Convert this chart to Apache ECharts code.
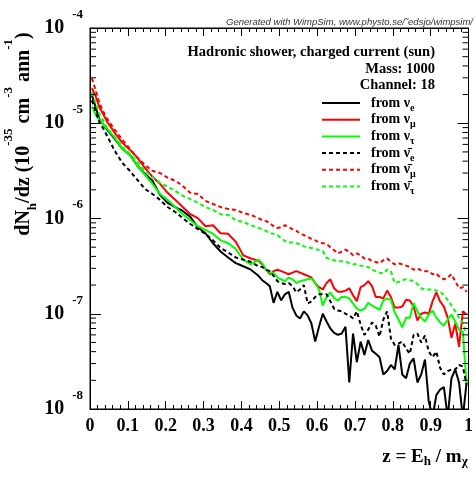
<!DOCTYPE html>
<html>
<head>
<meta charset="utf-8">
<script src="https://cdn.jsdelivr.net/npm/echarts@6/dist/echarts.min.js"></script>
<style>
html,body{margin:0;padding:0;background:#fff;}
#chart{width:476px;height:477px;}
</style>
</head>
<body>
<div id="chart"></div>
<script>
// bin centres of z = E_h / m_chi
const z = [0.005,0.015,0.025,0.035,0.045,0.065,0.085,0.105,0.125,0.145,0.165,0.185,0.205,0.225,0.245,0.265,0.285,0.305,0.325,0.345,0.365,0.385,0.405,0.425,0.445,
0.455,0.465,0.475,0.485,0.495,0.505,0.515,0.525,0.535,0.545,0.555,0.565,0.575,0.585,0.595,0.605,0.615,0.625,0.635,0.645,0.655,0.665,0.675,0.685,0.695,
0.705,0.715,0.725,0.735,0.745,0.755,0.765,0.775,0.785,0.795,0.805,0.815,0.825,0.835,0.845,0.855,0.865,0.875,0.885,0.895,0.905,0.915,0.925,0.935,0.945,
0.955,0.965,0.975,0.985,0.995];

const nuE = [1.96e-5,1.47e-5,1.09e-5,9.7e-6,8.6e-6,6.9e-6,5.41e-6,4.68e-6,3.58e-6,2.95e-6,2.49e-6,1.77e-6,1.46e-6,1.32e-6,1.20e-6,1.04e-6,8.1e-7,7.0e-7,5.5e-7,4.5e-7,3.9e-7,3.4e-7,3.15e-7,2.9e-7,2.5e-7,
2.25e-7,2.1e-7,1.95e-7,1.3e-7,1.7e-7,1.38e-7,1.6e-7,1.7e-7,1.16e-7,9.6e-8,8.9e-8,1.06e-7,9.6e-8,7.9e-8,5.1e-8,7.3e-8,1.0e-7,8.3e-8,7.0e-8,6.3e-8,6.0e-8,6.2e-8,7.3e-8,1.9e-8,6.2e-8,
3.1e-8,5.1e-8,3.7e-8,5.3e-8,4.1e-8,3.8e-8,3.5e-8,2.3e-8,2.5e-8,2.9e-8,2.6e-8,4.7e-8,2.3e-8,2.1e-8,3.0e-8,3.4e-8,1.9e-8,2.3e-8,3.3e-8,1.2e-8,8.2e-9,1.4e-8,1.6e-8,1.7e-8,8.2e-9,
2.1e-8,2.6e-8,1.9e-8,8.2e-9,1.9e-8];

const nuMu = [2.33e-5,1.92e-5,1.47e-5,1.24e-5,1.04e-5,7.98e-6,6.26e-6,5.28e-6,4.35e-6,3.41e-6,2.74e-6,2.31e-6,1.86e-6,1.57e-6,1.32e-6,1.11e-6,1.01e-6,8.3e-7,8.5e-7,7.0e-7,6.9e-7,5.7e-7,4.1e-7,3.8e-7,3.6e-7,
3.3e-7,2.9e-7,2.6e-7,2.8e-7,2.9e-7,2.8e-7,2.7e-7,2.6e-7,2.7e-7,2.8e-7,2.7e-7,2.6e-7,2.5e-7,2.4e-7,2.1e-7,1.9e-7,1.8e-7,2.1e-7,2.3e-7,1.85e-7,1.7e-7,1.7e-7,1.75e-7,1.85e-7,1.56e-7,
1.35e-7,1.9e-7,2.0e-7,2.2e-7,1.95e-7,1.5e-7,1.5e-7,1.45e-7,1.75e-7,1.5e-7,1.16e-7,1.16e-7,1.19e-7,1.4e-7,1.38e-7,1.19e-7,8.5e-8,1.0e-7,1.03e-7,1.0e-7,1.35e-7,1.68e-7,1.35e-7,1.19e-7,9.1e-8,
5.6e-8,7.9e-8,4.5e-8,1.06e-7,9.8e-8];

const nuTau = [1.50e-5,1.24e-5,1.07e-5,9.7e-6,8.8e-6,7.07e-6,5.41e-6,4.68e-6,3.58e-6,2.88e-6,2.31e-6,1.81e-6,1.57e-6,1.32e-6,1.11e-6,9.6e-7,8.3e-7,7.6e-7,6.9e-7,5.9e-7,5.5e-7,4.8e-7,3.7e-7,3.3e-7,3.7e-7,
3.4e-7,2.9e-7,2.7e-7,2.7e-7,2.4e-7,2.3e-7,2.2e-7,2.4e-7,2.3e-7,2.1e-7,2.2e-7,2.25e-7,2.3e-7,2.35e-7,2.1e-7,1.8e-7,1.22e-7,1.5e-7,1.68e-7,1.45e-7,1.38e-7,1.5e-7,1.5e-7,1.45e-7,1.28e-7,
1.13e-7,1.08e-7,1.13e-7,1.3e-7,1.22e-7,1.16e-7,1.1e-7,1.38e-7,1.45e-7,1.4e-7,1.03e-7,8.7e-8,7.2e-8,9.1e-8,9.1e-8,1.3e-7,1.06e-7,9.1e-8,8.3e-8,9.8e-8,1.08e-7,9.1e-8,8.1e-8,7.5e-8,8.7e-8,
9.8e-8,8.3e-8,6.8e-8,6.5e-8,1.8e-8];

const antiNuE = [1.74e-5,1.33e-5,1.02e-5,8.8e-6,7.4e-6,5.16e-6,3.85e-6,3.17e-6,2.55e-6,2.05e-6,1.81e-6,1.57e-6,1.32e-6,1.17e-6,1.01e-6,8.75e-7,7.75e-7,6.9e-7,5.9e-7,4.9e-7,4.4e-7,3.9e-7,3.7e-7,3.5e-7,3.15e-7,
3.1e-7,2.9e-7,2.8e-7,2.5e-7,2.2e-7,2.1e-7,2.05e-7,2.1e-7,1.95e-7,1.68e-7,1.8e-7,2.0e-7,1.28e-7,1.35e-7,1.5e-7,1.6e-7,1.6e-7,1.6e-7,1.35e-7,1.13e-7,1.08e-7,1.06e-7,1.0e-7,9.6e-8,8.9e-8,
1.06e-7,7.7e-8,6.0e-8,6.8e-8,8.1e-8,7.5e-8,5.75e-8,8.7e-8,1.06e-7,5.5e-8,4.7e-8,4.85e-8,5.1e-8,4.3e-8,3.8e-8,6.0e-8,6.2e-8,5.0e-8,5.9e-8,4.0e-8,3.5e-8,4.0e-8,2.7e-8,2.3e-8,2.5e-8,
2.6e-8,2.6e-8,2.9e-8,2.8e-8,1.8e-8];

const antiNuMu = [2.97e-5,2.22e-5,1.62e-5,1.33e-5,1.12e-5,8.6e-6,6.74e-6,5.41e-6,4.35e-6,3.67e-6,3.17e-6,3.0e-6,2.68e-6,2.49e-6,2.20e-6,1.86e-6,1.81e-6,1.53e-6,1.42e-6,1.32e-6,1.26e-6,1.23e-6,1.14e-6,1.09e-6,1.01e-6,
9.6e-7,9.4e-7,9.0e-7,8.3e-7,7.95e-7,8.1e-7,8.5e-7,8.1e-7,7.75e-7,7.4e-7,7.0e-7,6.7e-7,6.4e-7,6.1e-7,5.9e-7,5.6e-7,5.5e-7,5.4e-7,5.0e-7,4.65e-7,4.3e-7,4.5e-7,4.7e-7,4.5e-7,4.1e-7,
4.3e-7,4.1e-7,3.8e-7,3.8e-7,3.55e-7,3.5e-7,3.4e-7,3.65e-7,3.8e-7,3.5e-7,3.3e-7,3.4e-7,3.3e-7,3.2e-7,3.1e-7,2.9e-7,3.0e-7,2.85e-7,2.8e-7,2.8e-7,2.6e-7,2.65e-7,2.4e-7,2.3e-7,2.4e-7,
2.6e-7,2.2e-7,1.85e-7,1.9e-7,1.7e-7];

const antiNuTau = [2.11e-5,1.62e-5,1.24e-5,1.07e-5,9.0e-6,7.2e-6,5.68e-6,4.8e-6,3.95e-6,3.17e-6,2.74e-6,2.37e-6,2.15e-6,1.95e-6,1.73e-6,1.6e-6,1.46e-6,1.32e-6,1.23e-6,1.11e-6,1.09e-6,9.6e-7,9.2e-7,8.5e-7,7.95e-7,
7.75e-7,7.4e-7,7.0e-7,6.9e-7,6.7e-7,6.2e-7,5.8e-7,5.6e-7,5.6e-7,5.5e-7,5.4e-7,5.1e-7,5.0e-7,4.9e-7,4.8e-7,4.65e-7,4.55e-7,3.85e-7,3.75e-7,3.65e-7,3.55e-7,3.55e-7,3.5e-7,3.4e-7,3.3e-7,
3.3e-7,3.2e-7,3.15e-7,3.1e-7,2.9e-7,2.8e-7,2.7e-7,2.65e-7,2.9e-7,2.8e-7,2.1e-7,2.15e-7,2.25e-7,2.3e-7,2.25e-7,2.2e-7,2.05e-7,1.85e-7,1.8e-7,1.8e-7,1.8e-7,1.75e-7,1.7e-7,1.56e-7,1.4e-7,
1.22e-7,1.06e-7,9.1e-8,7.9e-8,6.2e-8];

const seriesNames = ['nu_e','nu_mu','nu_tau','anti_nu_e','anti_nu_mu','anti_nu_tau'];
const legendLabels = ['from \u03bd{sub|e}','from \u03bd{sub|\u03bc}','from \u03bd{sub|\u03c4}',
  'from \u03bd\u0304{sub|e}','from \u03bd\u0304{sub|\u03bc}','from \u03bd\u0304{sub|\u03c4}'];
const yTickMantissas = [2,3,4,5,6,7,8,9];
const yDecades = [-8,-7,-6,-5];

const FONT = 'Liberation Serif';
const seriesData = [nuE, nuMu, nuTau, antiNuE, antiNuMu, antiNuTau];
const colors = ['#000000','#ff0000','#00ff00','#000000','#ff0000','#00ff00'];
const dashed = [false,false,false,true,true,true];

const minorVals = [];
yDecades.forEach(d => yTickMantissas.forEach(m => minorVals.push([0, m * Math.pow(10, d)])));

const lineSeries = seriesData.map((vals, k) => ({
  name: seriesNames[k],
  type: 'line',
  symbol: 'none',
  clip: true,
  data: z.map((zz, i) => [zz, vals[i]]),
  lineStyle: {color: colors[k], width: 2, type: dashed[k] ? [4, 3] : 'solid'},
  itemStyle: {color: colors[k]},
  z: 3
}));

const xAxisBase = {
  type: 'value', min: 0, max: 1, interval: 0.1,
  axisLine: {show: true, onZero: false, lineStyle: {color: '#000', width: 1}},
  axisTick: {show: true, inside: true, length: 8, lineStyle: {color: '#000', width: 1}},
  minorTick: {show: true, splitNumber: 5, length: 4, lineStyle: {color: '#000', width: 1}},
  splitLine: {show: false}
};
const yAxisBase = {
  type: 'log', logBase: 10, min: 1e-8, max: 1e-4,
  axisLine: {show: true, onZero: false, lineStyle: {color: '#000', width: 1}},
  axisTick: {show: true, inside: true, length: 11, lineStyle: {color: '#000', width: 1}},
  minorTick: {show: false},
  splitLine: {show: false}
};

const option = {
  animation: false,
  backgroundColor: '#fff',
  grid: {left: 90, right: 2, top: 28, bottom: 68, show: true, borderColor: '#000', borderWidth: 1},
  xAxis: [
    Object.assign({}, xAxisBase, {position: 'bottom',
      axisLabel: {margin: 8, fontFamily: FONT, fontWeight: 'bold', fontSize: 18, color: '#000',
        formatter: v => String(+v.toFixed(1))}}),
    Object.assign({}, xAxisBase, {position: 'top', axisLabel: {show: false}})
  ],
  yAxis: [
    Object.assign({}, yAxisBase, {position: 'left',
      axisLabel: {margin: 7, color: '#000',
        formatter: v => '{b|10}{s|' + Math.round(Math.log10(v)) + '}',
        rich: {
          b: {fontFamily: FONT, fontWeight: 'bold', fontSize: 20, color: '#000', lineHeight: 40, verticalAlign: 'middle'},
          s: {fontFamily: FONT, fontWeight: 'bold', fontSize: 13, color: '#000', lineHeight: 12, verticalAlign: 'top', padding: [0, 0, 0, 8]}
        }}}),
    Object.assign({}, yAxisBase, {position: 'right', axisLabel: {show: false}})
  ],
  legend: {
    orient: 'vertical', left: 321, top: 93, padding: 0, itemWidth: 38, itemHeight: 14, itemGap: -3.3,
    data: seriesNames,
    itemStyle: {opacity: 0},
    formatter: name => legendLabels[seriesNames.indexOf(name)],
    textStyle: {fontFamily: FONT, fontWeight: 'bold', fontSize: 14, color: '#000', lineHeight: 20, padding: [0, 0, 0, 6],
      rich: {sub: {fontFamily: FONT, fontWeight: 'bold', fontSize: 10, color: '#000', verticalAlign: 'bottom'}}}
  },
  graphic: [
    {type: 'text', x: 473, y: 22, silent: true,
      style: {text: 'Generated with WimpSim, www.physto.se/\u02dcedsjo/wimpsim/', align: 'right', verticalAlign: 'middle',
        fontFamily: 'Liberation Sans', fontStyle: 'italic', fontSize: 9.5, fill: '#333'}},
    {type: 'text', x: 435, y: 44, silent: true,
      style: {text: 'Hadronic shower, charged current (sun)\nMass: 1000\nChannel: 18', align: 'right', verticalAlign: 'top',
        lineHeight: 16.5, fontFamily: FONT, fontWeight: 'bold', fontSize: 14.5, fill: '#000'}},
    {type: 'text', x: 24, y: 134, rotation: Math.PI / 2, silent: true,
      style: {text: 'dN{sub|h}/dz (10{sup|-35} cm{sup|-3} ann{sup|-1})', align: 'center', verticalAlign: 'middle',
        fontFamily: FONT, fontWeight: 'bold', fontSize: 20, lineHeight: 44, fill: '#000',
        rich: {
          sub: {fontFamily: FONT, fontWeight: 'bold', fontSize: 13, verticalAlign: 'bottom', padding: [0, 0, 6.5, 0], fill: '#000'},
          sup: {fontFamily: FONT, fontWeight: 'bold', fontSize: 13, verticalAlign: 'top', fill: '#000'}
        }}},
    {type: 'text', x: 425, y: 457, silent: true,
      style: {text: 'z = E{sub|h} / m{sub|\u03c7}', align: 'center', verticalAlign: 'middle',
        fontFamily: FONT, fontWeight: 'bold', fontSize: 19, lineHeight: 40, fill: '#000',
        rich: {sub: {fontFamily: FONT, fontWeight: 'bold', fontSize: 13, verticalAlign: 'bottom', padding: [0, 0, 8.5, 0], fill: '#000'}}}}
  ],
  series: lineSeries.concat([{
    type: 'custom', name: 'yMinorTicks', coordinateSystem: 'cartesian2d', silent: true,
    xAxisIndex: 0, yAxisIndex: 0, data: minorVals, z: 5,
    renderItem: (params, api) => {
      const v = api.value(1);
      const a = api.coord([0, v]);
      const b = api.coord([1, v]);
      return {type: 'group', children: [
        {type: 'line', shape: {x1: a[0], y1: a[1], x2: a[0] + 6, y2: a[1]}, style: {stroke: '#000', lineWidth: 1}},
        {type: 'line', shape: {x1: b[0] - 6, y1: b[1], x2: b[0], y2: b[1]}, style: {stroke: '#000', lineWidth: 1}}
      ]};
    }
  }])
};

const chart = echarts.init(document.getElementById('chart'), null, {renderer: 'canvas'});
chart.setOption(option);
</script>
</body>
</html>
